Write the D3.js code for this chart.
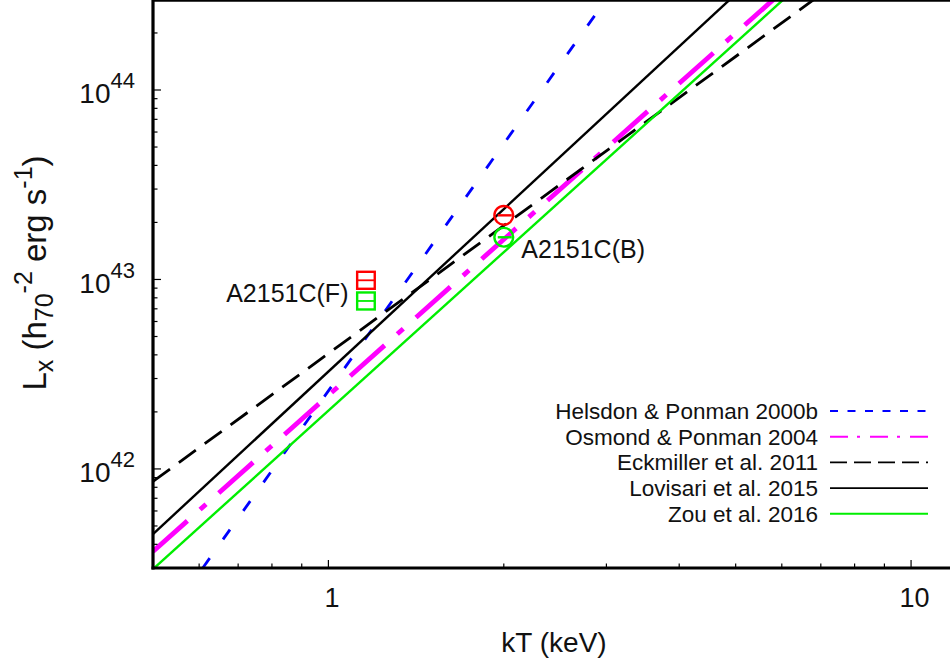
<!DOCTYPE html>
<html>
<head>
<meta charset="utf-8">
<script src="https://cdn.jsdelivr.net/npm/d3@7/dist/d3.min.js"></script>
<style>
  html, body { margin: 0; padding: 0; background: #fff; }
  svg { display: block; font-family: "Liberation Sans", Arial, Helvetica, sans-serif; }
</style>
</head>
<body>
<svg id="chart" width="950" height="661"></svg>
<script>
// Scaling relations, L_X at the two ends of the temperature range (power laws are straight in log-log)
const relNames  = ["Helsdon & Ponman 2000b", "Osmond & Ponman 2004", "Eckmiller et al. 2011", "Lovisari et al. 2015", "Zou et al. 2016"];
const relTemps  = [0.5, 10];
const helsdonL  = [1.28e41, 5.57e46];
const osmondL   = [3.67e41, 1.33e45];
const eckmillerL = [8.59e41, 7.11e44];
const lovisariL = [4.53e41, 2.31e45];
const zouL      = [2.96e41, 1.22e45];

// A2151C measurements: bright (B) and faint (F) components, two estimates each
const brightT = [2.0, 2.0];
const brightL = [2.18e43, 1.67e43];
const faintT  = [1.16, 1.16];
const faintL  = [9.9e42, 7.7e42];
const markColors = ["#ff0000", "#00ee00"];

// Axis ticks
const xMajor = [1, 10];
const xMinor = [0.6, 0.7, 0.8, 0.9, 2, 3, 4, 5, 6, 7, 8, 9];
const yMajorExp = [42, 43, 44];
const yMinor = [4e41, 5e41, 6e41, 7e41, 8e41, 9e41,
                2e42, 3e42, 4e42, 5e42, 6e42, 7e42, 8e42, 9e42,
                2e43, 3e43, 4e43, 5e43, 6e43, 7e43, 8e43, 9e43, 2e44];

const svg = d3.select("#chart");

const pLeft = 153, pRight = 957.2, pTop = -0.4, pBottom = 568;
const x = d3.scaleLog().domain([0.5, 12]).range([pLeft, pRight]);
const y = d3.scaleLog().domain([3e41, 3e44]).range([pBottom, pTop]);

svg.append("defs").append("clipPath").attr("id", "plotClip")
  .append("rect").attr("x", pLeft).attr("y", pTop).attr("width", pRight - pLeft).attr("height", pBottom - pTop);

const relSeries = [
  { name: relNames[0], L: helsdonL,   color: "#0000ff", w: 2.8, dash: "12,23", off: 19, lw: 2,   ldash: "8,9.5" },
  { name: relNames[1], L: osmondL,    color: "#ff00ff", w: 4.8, dash: "46,17,8,17", off: 0, lw: 2, ldash: "18,9,3,10" },
  { name: relNames[2], L: eckmillerL, color: "#000000", w: 2.8, dash: "21,11", off: 0,  lw: 1.6, ldash: "17,7" },
  { name: relNames[3], L: lovisariL,  color: "#000000", w: 2.4, dash: null,    off: 0,  lw: 1.6, ldash: null },
  { name: relNames[4], L: zouL,       color: "#00ee00", w: 2.4, dash: null,    off: 0,  lw: 2,   ldash: null }
];

const line = d3.line().x(d => x(d[0])).y(d => y(d[1]));
const linesG = svg.append("g").attr("clip-path", "url(#plotClip)");
relSeries.forEach(s => {
  linesG.append("path")
    .datum(relTemps.map((t, i) => [t, s.L[i]]))
    .attr("d", line)
    .attr("fill", "none")
    .attr("stroke", s.color)
    .attr("stroke-width", s.w)
    .attr("stroke-dasharray", s.dash)
    .attr("stroke-dashoffset", s.off);
});

// Axes: gnuplot-style inward ticks
const axG = svg.append("g");
axG.append("line").attr("x1", pLeft).attr("x2", pLeft).attr("y1", 0).attr("y2", pBottom + 1.5)
  .attr("stroke", "#000").attr("stroke-width", 3.2);
axG.append("line").attr("x1", pLeft - 1.5).attr("x2", 950).attr("y1", pBottom).attr("y2", pBottom)
  .attr("stroke", "#000").attr("stroke-width", 3.2);
axG.append("line").attr("x1", pLeft).attr("x2", 950).attr("y1", 0.5).attr("y2", 0.5)
  .attr("stroke", "#000").attr("stroke-width", 2.5);

xMajor.forEach(v => axG.append("line").attr("x1", x(v)).attr("x2", x(v))
  .attr("y1", pBottom).attr("y2", pBottom - 8).attr("stroke", "#000").attr("stroke-width", 1.2));
xMinor.forEach(v => axG.append("line").attr("x1", x(v)).attr("x2", x(v))
  .attr("y1", pBottom).attr("y2", pBottom - 4.5).attr("stroke", "#000").attr("stroke-width", 1.2));
yMajorExp.forEach(e => axG.append("line").attr("x1", pLeft).attr("x2", pLeft + 8)
  .attr("y1", y(Math.pow(10, e))).attr("y2", y(Math.pow(10, e))).attr("stroke", "#000").attr("stroke-width", 1.2));
yMinor.forEach(v => axG.append("line").attr("x1", pLeft).attr("x2", pLeft + 4.5)
  .attr("y1", y(v)).attr("y2", y(v)).attr("stroke", "#000").attr("stroke-width", 1.2));

// Tick labels
xMajor.forEach(v => axG.append("text").attr("x", x(v) + 3.5).attr("y", 607)
  .attr("text-anchor", "middle").attr("font-size", 27).attr("fill", "#111").text(d3.format("d")(v)));
yMajorExp.forEach(e => {
  const t = axG.append("text").attr("x", 135).attr("y", y(Math.pow(10, e)) + 13.5)
    .attr("text-anchor", "end").attr("font-size", 28).attr("fill", "#111");
  t.append("tspan").text("10");
  t.append("tspan").attr("font-size", 22).attr("dy", -15).text(e);
});

// Axis titles
svg.append("text").attr("x", 554).attr("y", 652).attr("text-anchor", "middle")
  .attr("font-size", 28).attr("fill", "#111").text("kT (keV)");

const yt = svg.append("text")
  .attr("transform", "translate(46,273) rotate(-90)")
  .attr("text-anchor", "middle").attr("font-size", 33).attr("fill", "#111");
yt.append("tspan").text("L");
yt.append("tspan").attr("font-size", 25).attr("dy", 7).text("x");
yt.append("tspan").attr("dy", -7).text(" (h");
yt.append("tspan").attr("font-size", 25).attr("dy", 7).text("70");
yt.append("tspan").attr("font-size", 25).attr("dy", -21).text("-2");
yt.append("tspan").attr("dy", 14).text(" erg s");
yt.append("tspan").attr("font-size", 25).attr("dy", -14).text("-1");
yt.append("tspan").attr("dy", 14).text(")");

// A2151C markers
const markG = svg.append("g");
brightT.forEach((t, i) => {
  const cx = x(t), cy = y(brightL[i]);
  markG.append("circle").attr("cx", cx).attr("cy", cy).attr("r", 9.4)
    .attr("fill", "none").attr("stroke", markColors[i]).attr("stroke-width", 2.4);
  markG.append("line").attr("x1", cx - 6).attr("x2", cx + 8).attr("y1", cy).attr("y2", cy)
    .attr("stroke", markColors[i]).attr("stroke-width", 2.4);
});
faintT.forEach((t, i) => {
  const cx = x(t), cy = y(faintL[i]);
  markG.append("rect").attr("x", cx - 8.8).attr("y", cy - 8.5).attr("width", 17.6).attr("height", 17)
    .attr("fill", "none").attr("stroke", markColors[i]).attr("stroke-width", 2.4);
  markG.append("line").attr("x1", cx - 8.8).attr("x2", cx + 8.8).attr("y1", cy).attr("y2", cy)
    .attr("stroke", markColors[i]).attr("stroke-width", 1.8);
});
markG.append("text").attr("x", x(brightT[1]) + 17.5).attr("y", y(brightL[1]) + 20.5)
  .attr("font-size", 25).attr("fill", "#111").text("A2151C(B)");
markG.append("text").attr("x", x(faintT[1]) - 17.5).attr("y", y(faintL[1]) + 1)
  .attr("text-anchor", "end").attr("font-size", 25).attr("fill", "#111").text("A2151C(F)");

// Legend
const legG = svg.append("g");
relSeries.forEach((s, i) => {
  const cy = 411 + i * 25.7;
  legG.append("text").attr("x", 818).attr("y", cy + 8).attr("text-anchor", "end")
    .attr("font-size", 22.5).attr("fill", "#111").text(s.name);
  legG.append("line").attr("x1", 830).attr("x2", 928).attr("y1", cy).attr("y2", cy)
    .attr("stroke", s.color).attr("stroke-width", s.lw).attr("stroke-dasharray", s.ldash);
});
</script>
</body>
</html>
